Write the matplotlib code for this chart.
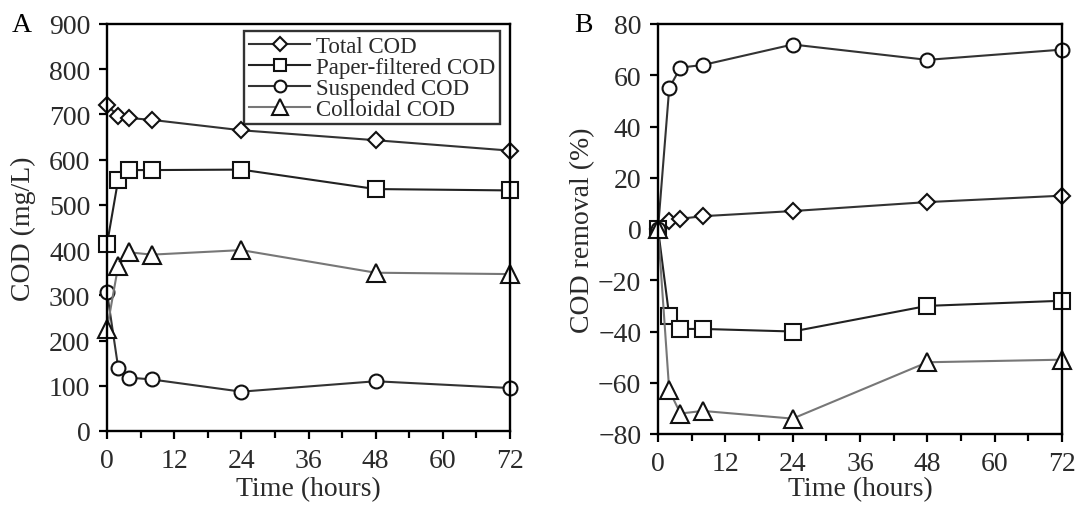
import matplotlib
matplotlib.use("Agg")
import matplotlib.pyplot as plt
from matplotlib.ticker import MultipleLocator

plt.rcParams['font.family'] = ['Liberation Serif', 'DejaVu Serif']

time_h = [0, 2, 4, 8, 24, 48, 72]
series_names = ["Total COD", "Paper-filtered COD", "Suspended COD", "Colloidal COD"]

cod_total = [720, 697, 692, 688, 665, 643, 620]
cod_filtered = [413, 556, 577, 577, 578, 535, 532]
cod_suspended = [307, 140, 118, 114, 87, 110, 95]
cod_colloidal = [226, 365, 395, 390, 400, 350, 347]

rem_total = [0, 3, 4, 5, 7, 10.5, 13]
rem_filtered = [0, -34, -39, -39, -40, -30, -28]
rem_suspended = [0, 55, 63, 64, 72, 66, 70]
rem_colloidal = [0, -63, -72, -71, -74, -52, -51]

markers = ['D', 's', 'o', '^']
msizes = [8, 11, 10, 13]
line_colors = ['#333333', '#222222', '#333333', '#777777']

fig = plt.figure(figsize=(10.78, 5.06), dpi=100)
W, H = 1078, 506
A_box = (107, 510, 25, 432)
B_box = (658, 1062, 25, 435)
axA = fig.add_axes([A_box[0] / W, 1 - A_box[3] / H, (A_box[1] - A_box[0]) / W, (A_box[3] - A_box[2]) / H])
axB = fig.add_axes([B_box[0] / W, 1 - B_box[3] / H, (B_box[1] - B_box[0]) / W, (B_box[3] - B_box[2]) / H])

text_col = '#2a2a2a'

def style(ax, box, ylabel_x_px):
    ax.set_xlim(0, 72)
    ax.xaxis.set_major_locator(MultipleLocator(12))
    ax.xaxis.set_minor_locator(MultipleLocator(6))
    ax.tick_params(axis='both', which='both', direction='out', labelsize=20,
                   colors='black', labelcolor=text_col, width=1.6)
    ax.tick_params(axis='x', which='major', pad=6)
    ax.tick_params(axis='y', which='major', pad=6)
    ax.tick_params(axis='both', which='major', length=6)
    ax.tick_params(axis='x', which='minor', length=5)
    for s in ax.spines.values():
        s.set_linewidth(1.7)
    ax.set_xlabel("Time (hours)", fontsize=20, color=text_col, va='center')
    l, r, t, b = box
    ax.xaxis.set_label_coords(0.5, (b - 490) / (b - t))
    ax.yaxis.set_label_coords((ylabel_x_px - l) / (r - l), 0.5)

ysA = [cod_total, cod_filtered, cod_suspended, cod_colloidal]
for ys, name, m, ms, lc in zip(ysA, series_names, markers, msizes, line_colors):
    axA.plot(time_h, ys, marker=m, markersize=ms, color=lc, lw=1.5,
             markerfacecolor='white', markeredgecolor='#111111', markeredgewidth=1.5,
             label=name, clip_on=False)
axA.set_ylim(0, 900)
axA.yaxis.set_major_locator(MultipleLocator(100))
axA.set_ylabel("COD (mg/L)", fontsize=20, color=text_col, va='center')
style(axA, A_box, 23)
leg = axA.legend(loc='upper right', bbox_to_anchor=(1 - 10 / 403, 1 - 7 / 407), borderaxespad=0,
                 fontsize=16.5, frameon=True, fancybox=False, edgecolor='black', handlelength=2.7,
                 handletextpad=0.25, borderpad=0.2, labelspacing=0.0, markerscale=0.85)
leg.get_frame().set_linewidth(1.7)
for t in leg.get_texts():
    t.set_color(text_col)

ysB = [rem_total, rem_filtered, rem_suspended, rem_colloidal]
for ys, name, m, ms, lc in zip(ysB, series_names, markers, msizes, line_colors):
    axB.plot(time_h, ys, marker=m, markersize=ms, color=lc, lw=1.5,
             markerfacecolor='white', markeredgecolor='#111111', markeredgewidth=1.5,
             clip_on=False)
axB.set_ylim(-80, 80)
axB.yaxis.set_major_locator(MultipleLocator(20))
axB.set_ylabel("COD removal (%)", fontsize=20, color=text_col, va='center')
style(axB, B_box, 583)

fig.text(12 / W, 1 - 26 / H, "A", fontsize=20, color='black', va='center', ha='left')
fig.text(574 / W, 1 - 26 / H, "B", fontsize=20, color='black', va='center', ha='left')

fig.savefig("out.png", dpi=100)
